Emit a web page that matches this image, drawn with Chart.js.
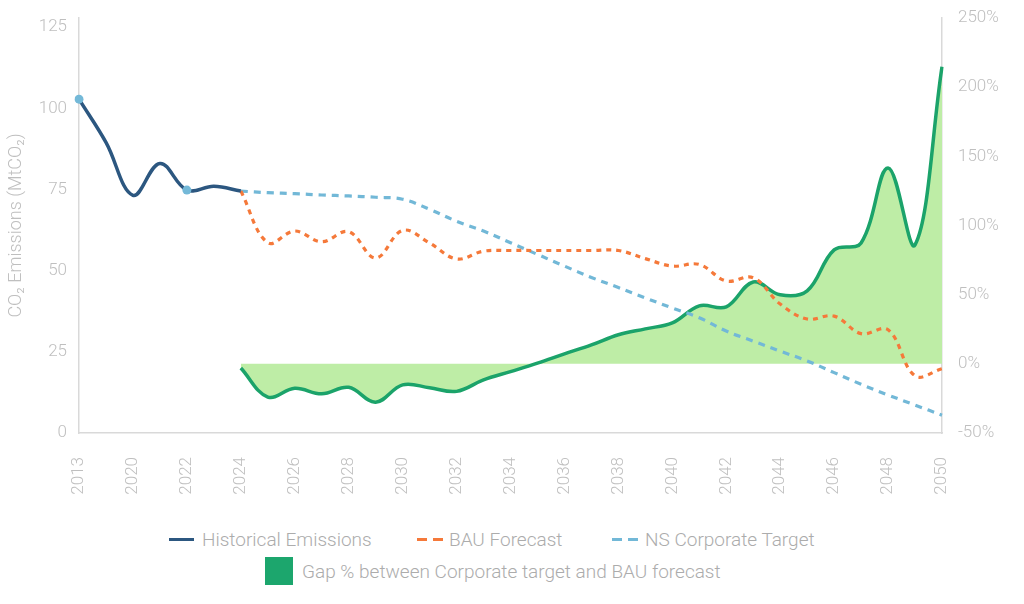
<!DOCTYPE html>
<html>
<head>
<meta charset="utf-8">
<script src="https://cdn.jsdelivr.net/npm/chart.js@4"></script>
<style>
  body { margin: 0; background: #fff; font-family: Roboto, 'Noto Sans', sans-serif; }
  #wrap { position: absolute; left: 0; top: 0; width: 1024px; height: 515px; }
  .lg { position: absolute; display: flex; align-items: center; color: #acacac; font-size: 19px; font-weight: 300; white-space: nowrap; }
  .sw { display: inline-block; height: 3px; }
  .dash { display: inline-flex; gap: 6px; }
  .dash span { display: inline-block; width: 10px; height: 3px; }
</style>
</head>
<body>
<div id="wrap"><canvas id="chart"></canvas></div>

<div class="lg" style="left:169px; top:528px; height:22px;">
  <span class="sw" style="width:25px; background:#2c5780; margin-right:8px;"></span>Historical Emissions
</div>
<div class="lg" style="left:417px; top:528px; height:22px;">
  <span class="dash" style="margin-right:6px;"><span style="background:#f5793a"></span><span style="background:#f5793a"></span></span>BAU Forecast
</div>
<div class="lg" style="left:612px; top:528px; height:22px;">
  <span class="dash" style="margin-right:7px;"><span style="background:#72b8d7"></span><span style="background:#72b8d7"></span></span>NS Corporate Target
</div>
<div class="lg" style="left:265px; top:557px; height:28px;">
  <span class="sw" style="width:28px; height:28px; background:#1ca66d; margin-right:9px;"></span>Gap % between Corporate target and BAU forecast
</div>

<script>
// Emissions chart: historical, BAU and target (left axis), gap % (right axis)

const years = ['2013', '2019', '2020', '2021', '2022', '2023', '2024', '2025', '2026', '2027', '2028',
  '2029', '2030', '2031', '2032', '2033', '2034', '2035', '2036', '2037', '2038', '2039', '2040',
  '2041', '2042', '2043', '2044', '2045', '2046', '2047', '2048', '2049', '2050'];

const historical = [102.8, 89.5, 73.2, 83.0, 74.8, 76.0, 74.5,
  null, null, null, null, null, null, null, null, null, null, null, null, null,
  null, null, null, null, null, null, null, null, null, null, null, null, null];

const bauForecast = [null, null, null, null, null, null, 74.5,
  58.6, 62.2, 58.9, 62.0, 53.9, 62.4, 58.5, 53.6, 56.0, 56.2, 56.2, 56.2, 56.2,
  56.2, 53.7, 51.4, 51.9, 46.8, 47.8, 39.7, 35.1, 36.0, 30.6, 31.8, 17.6, 19.8];

const nsTarget = [null, null, null, null, null, null, 74.5,
  74.0, 73.7, 73.3, 73.0, 72.6, 72.0, 68.9, 65.2, 62.2, 58.6, 55.0, 51.4, 47.9,
  44.8, 41.6, 38.5, 35.5, 31.4, 28.3, 25.2, 22.2, 18.6, 15.0, 11.7, 8.6, 5.5];

const gapPct = [null, null, null, null, null, null, -3,
  -24, -17.7, -21.7, -17, -27.7, -15.2, -17.3, -19.9, -11.6, -5.6, 0.5, 7.2, 13.7,
  21, 25.3, 29.6, 41.9, 41.2, 59.2, 49.9, 52.7, 82.4, 87.4, 141.6, 86, 214.8];

// dots on 2013 and 2022 only
const histDots = historical.map((v, i) => (i === 0 || i === 4) ? 4.5 : 0);

const grey = '#bfbfbf';
const axisLine = '#d9d9d9';
const tickFont = { family: 'Roboto', size: 17, weight: '300' };

// hidden tick marks: the gap to the labels comes from tickLength, so the
// label padding (which also pads the chart top) stays small
const hiddenGrid = len => ({ display: false, drawTicks: true, tickLength: len, color: 'rgba(0,0,0,0)' });

new Chart(document.getElementById('chart'), {
  type: 'line',
  data: {
    labels: years,
    datasets: [
      {
        label: 'Historical Emissions',
        data: historical,
        yAxisID: 'y',
        borderColor: '#2c5780',
        borderWidth: 3.5,
        tension: 0.38,
        pointRadius: histDots,
        pointBackgroundColor: '#74b9d8',
        pointBorderWidth: 0,
        fill: false,
      },
      {
        label: 'BAU Forecast',
        data: bauForecast,
        yAxisID: 'y',
        borderColor: '#f5793a',
        borderWidth: 3.2,
        borderDash: [5, 5],
        tension: 0.38,
        pointRadius: 0,
        fill: false,
      },
      {
        label: 'NS Corporate Target',
        data: nsTarget,
        yAxisID: 'y',
        borderColor: '#72b8d7',
        borderWidth: 3.2,
        borderDash: [7, 6],
        tension: 0.38,
        pointRadius: 0,
        fill: false,
      },
      {
        label: 'Gap % between Corporate target and BAU forecast',
        data: gapPct,
        yAxisID: 'y1',
        borderColor: '#1ba36a',
        borderWidth: 3.5,
        backgroundColor: '#beeda6',
        tension: 0.38,
        pointRadius: 0,
        fill: { value: 0 },
      },
    ],
  },
  options: {
    responsive: true,
    maintainAspectRatio: false,
    animation: false,
    layout: { padding: { top: 18, left: 0, right: 0, bottom: 0 } },
    plugins: {
      legend: { display: false },
      tooltip: { enabled: false },
    },
    scales: {
      x: {
        type: 'category',
        grid: { display: false, drawTicks: false },
        border: { display: true, color: axisLine, width: 1.5 },
        afterFit: s => { s.height = 515 - 433; },
        ticks: {
          color: grey,
          font: tickFont,
          autoSkip: false,
          minRotation: 90,
          maxRotation: 90,
          padding: 24,
          callback: function (v, i) { return i % 2 === 0 ? this.getLabelForValue(v) : ''; },
        },
      },
      y: {
        position: 'left',
        min: 0,
        max: 127.8,
        grid: hiddenGrid(11),
        border: { display: true, color: axisLine, width: 1.5 },
        afterFit: s => { s.width = 79; },
        ticks: {
          color: grey,
          font: tickFont,
          stepSize: 25,
          includeBounds: false,
          padding: 1,
        },
        title: {
          display: true,
          text: 'CO₂ Emissions (MtCO₂)',
          color: grey,
          font: { family: 'Roboto', size: 18, weight: '300' },
          padding: { top: 6, bottom: 0 },
        },
      },
      y1: {
        position: 'right',
        min: -50,
        max: 250,
        grid: hiddenGrid(15),
        border: { display: true, color: axisLine, width: 1.5 },
        afterFit: s => { s.width = 1024 - 942; },
        ticks: {
          color: grey,
          font: tickFont,
          stepSize: 50,
          padding: 1,
          callback: v => v + '%',
        },
      },
    },
  },
});
</script>
</body>
</html>
